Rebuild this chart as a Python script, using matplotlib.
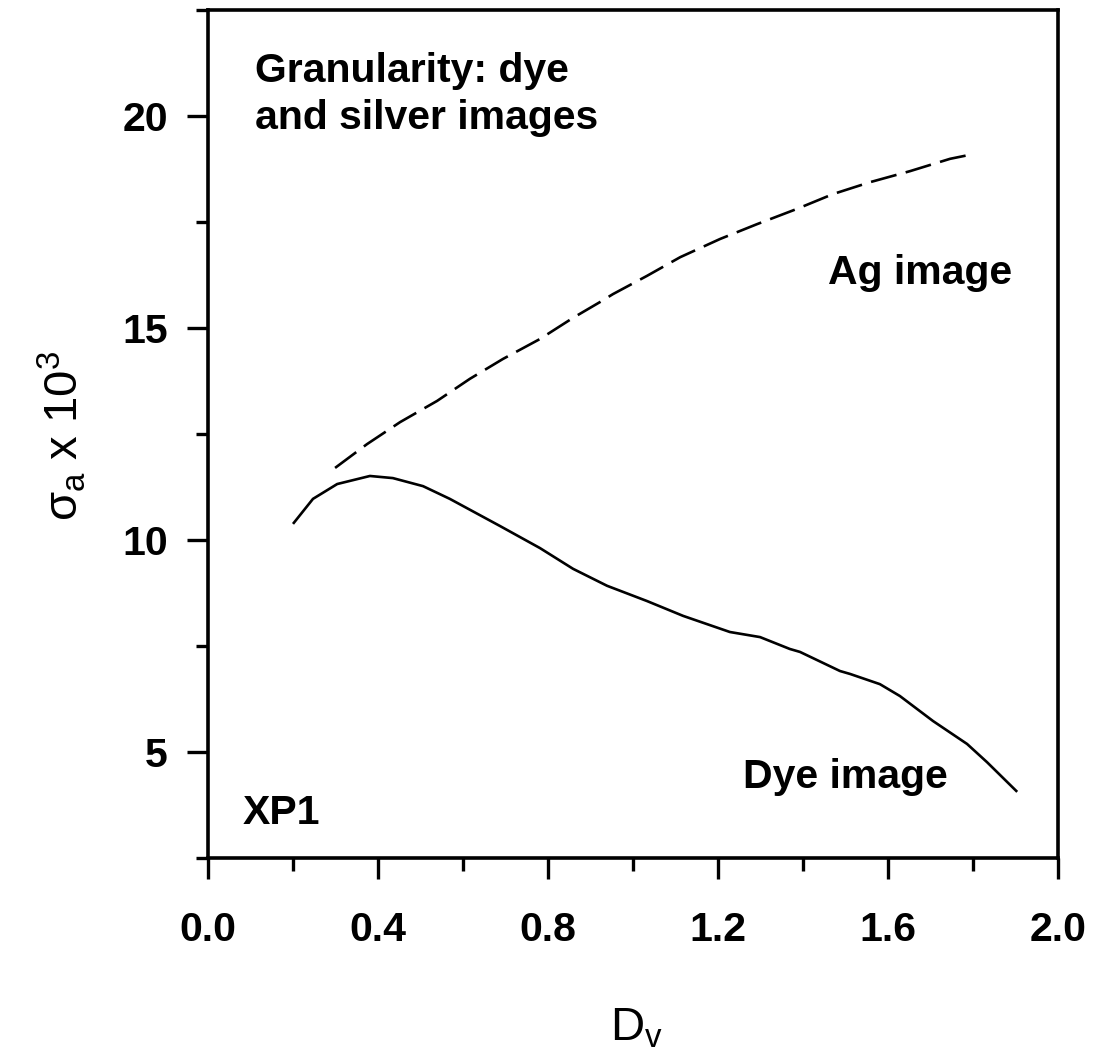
import matplotlib
matplotlib.use("Agg")
import matplotlib.pyplot as plt
import numpy as np

plt.rcParams['font.family'] = ['Liberation Sans', 'DejaVu Sans']
plt.rcParams['mathtext.fontset'] = 'custom'
plt.rcParams['mathtext.rm'] = 'Liberation Sans'
plt.rcParams['mathtext.it'] = 'Liberation Sans'

# Data
dye_x = [0.200, 0.247, 0.304, 0.381, 0.435, 0.506, 0.569, 0.687, 0.781, 0.859,
         0.939, 1.033, 1.118, 1.228, 1.299, 1.369, 1.393, 1.487, 1.511, 1.581,
         1.628, 1.706, 1.786, 1.833, 1.904]
dye_y = [10.38, 10.97, 11.32, 11.51, 11.46, 11.27, 10.97, 10.33, 9.81, 9.32,
         8.92, 8.56, 8.21, 7.83, 7.71, 7.43, 7.36, 6.91, 6.84, 6.60,
         6.32, 5.73, 5.19, 4.76, 4.06]

ag_x = [0.299, 0.374, 0.452, 0.539, 0.616, 0.694, 0.781, 0.859, 0.922, 0.953,
        1.033, 1.111, 1.205, 1.292, 1.386, 1.471, 1.558, 1.652, 1.746, 1.800]
ag_y = [11.70, 12.26, 12.78, 13.28, 13.80, 14.27, 14.74, 15.24, 15.61, 15.80,
        16.23, 16.67, 17.10, 17.45, 17.81, 18.16, 18.44, 18.70, 18.99, 19.10]

x_ticks = [0.0, 0.4, 0.8, 1.2, 1.6, 2.0]
x_ticklabels = ["0.0", "0.4", "0.8", "1.2", "1.6", "2.0"]
y_ticks = [5, 10, 15, 20]
y_ticklabels = ["5", "10", "15", "20"]

W, H = 1094, 1059
fig = plt.figure(figsize=(W / 100, H / 100), dpi=100)
ax = fig.add_axes([208 / W, 1 - 858 / H, (1058 - 208) / W, (858 - 10) / H])

ax.plot(dye_x, dye_y, color='black', lw=1.9, solid_capstyle='butt',
        solid_joinstyle='round')
ax.plot(ag_x, ag_y, color='black', lw=1.9, linestyle=(0, (10, 3.6)),
        dash_capstyle='butt')

ax.set_xlim(0, 2.0)
ax.set_ylim(2.5, 22.5)
ax.set_xticks(x_ticks)
ax.set_xticklabels(x_ticklabels)
ax.set_yticks(y_ticks)
ax.set_yticklabels(y_ticklabels)
ax.set_xticks(np.arange(0.2, 2.0, 0.4), minor=True)
ax.set_yticks([2.5, 7.5, 12.5, 17.5, 22.5], minor=True)

for s in ax.spines.values():
    s.set_linewidth(2.6)

ax.tick_params(axis='both', which='major', direction='out', length=15, width=2.4,
               labelsize=29.5)
ax.tick_params(axis='both', which='minor', direction='out', length=9, width=2.4)
ax.tick_params(axis='x', which='major', pad=23)
ax.tick_params(axis='y', which='major', pad=14)
for lab in ax.get_xticklabels() + ax.get_yticklabels():
    lab.set_fontweight('bold')

ax.text(0.055, 0.950, "Granularity: dye\nand silver images", transform=ax.transAxes,
        fontsize=29.5, fontweight='bold', va='top', ha='left', linespacing=1.27)
ax.text(0.729, 0.69, "Ag image", transform=ax.transAxes, fontsize=29.5,
        fontweight='bold', va='center', ha='left')
ax.text(0.629, 0.095, "Dye image", transform=ax.transAxes, fontsize=29.5,
        fontweight='bold', va='center', ha='left')
ax.text(0.041, 0.053, "XP1", transform=ax.transAxes, fontsize=29.5,
        fontweight='bold', va='center', ha='left')

fig.text(62 / W, 1 - 436 / H, r"$\sigma_\mathrm{a}$ x 10$^3$", rotation=90,
         fontsize=34, ha='center', va='center')
fig.text(636 / W, 1 - 1028 / H, r"D$_\mathrm{v}$", fontsize=34,
         ha='center', va='center')

fig.savefig("out.png", dpi=100)
